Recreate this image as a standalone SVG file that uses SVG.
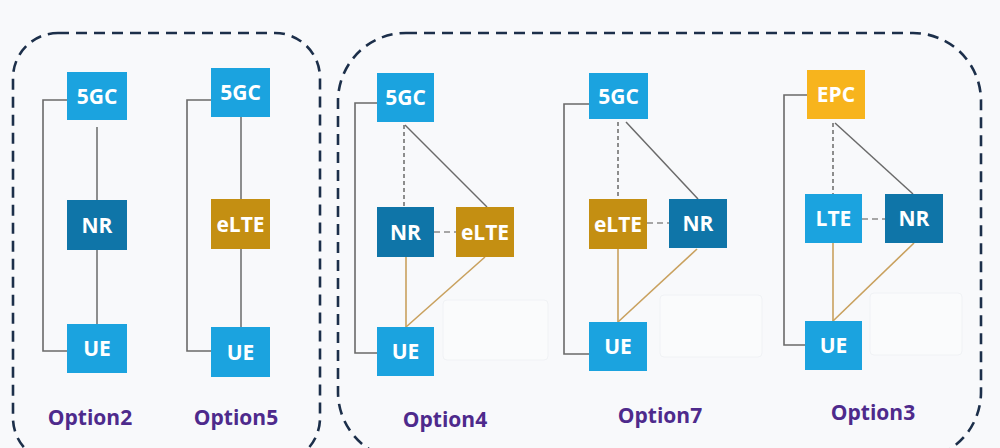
<svg xmlns="http://www.w3.org/2000/svg" width="1000" height="448" viewBox="0 0 1000 448">
<style>
.frame{fill:none;stroke:#1c2f4a;stroke-width:2.6;stroke-dasharray:11 7}
.lb{fill:#1ba3df}.nr{fill:#0f75a8}.el{fill:#c48f12}.epc{fill:#f7b41d}
.t{font-family:"Open Sans","Liberation Sans",sans-serif;font-weight:700;font-size:21px;fill:#ffffff;text-anchor:middle}
.lab{font-family:"Open Sans","Liberation Sans",sans-serif;font-weight:700;font-size:21px;fill:#4e2a8c;text-anchor:middle}
.br{fill:none;stroke:#6a6a6a;stroke-width:1.6}
.sl{stroke:#6a6a6a;stroke-width:1.5}
.dl{stroke:#6a6a6a;stroke-width:1.5;stroke-dasharray:4 3}
.hd{stroke:#8a8a8a;stroke-width:1.5;stroke-dasharray:6 4}
.tan{stroke:#c9a15e;stroke-width:1.6}
.ghost{fill:#fafbfc;stroke:#f0f2f5;stroke-width:1}
</style>
<rect width="1000" height="448" fill="#f8f9fb"/>
<rect class="frame" x="13" y="33" width="307" height="430" rx="45"/>
<rect class="frame" x="338" y="33" width="643" height="427" rx="68"/>
<g id="ghosts">
<rect class="ghost" x="443" y="300" width="105" height="60" rx="4"/>
<rect class="ghost" x="660" y="295" width="102" height="62" rx="4"/>
<rect class="ghost" x="870" y="293" width="92" height="62" rx="4"/>
</g>
<g id="connectors">
<polyline class="br" points="67,100 43,100 43,351 67,351"/>
<line class="sl" x1="97" y1="127" x2="97" y2="200"/>
<line class="sl" x1="97" y1="250" x2="97" y2="324"/>
<polyline class="br" points="211,100 187,100 187,351 211,351"/>
<line class="sl" x1="241" y1="117" x2="241" y2="199"/>
<line class="sl" x1="241" y1="249" x2="241" y2="327"/>
<polyline class="br" points="377,103 355,103 355,353 377,353"/>
<line class="dl" x1="404" y1="125" x2="404" y2="207"/>
<line class="sl" x1="405" y1="125" x2="487" y2="207"/>
<line class="hd" x1="434" y1="232" x2="456" y2="232"/>
<line class="tan" x1="406" y1="257" x2="406" y2="327"/>
<line class="tan" x1="485" y1="257" x2="406" y2="327"/>
<polyline class="br" points="589,104 564,104 564,354 589,354"/>
<line class="dl" x1="618" y1="122" x2="618" y2="199"/>
<line class="sl" x1="626" y1="122" x2="698" y2="199"/>
<line class="hd" x1="647" y1="223" x2="669" y2="223"/>
<line class="tan" x1="618" y1="249" x2="618" y2="322"/>
<line class="tan" x1="697" y1="249" x2="618" y2="322"/>
<polyline class="br" points="807,95 784,95 784,345 805,345"/>
<line class="dl" x1="833" y1="123" x2="833" y2="194"/>
<line class="sl" x1="835" y1="123" x2="913" y2="194"/>
<line class="hd" x1="862" y1="219" x2="885" y2="219"/>
<line class="tan" x1="833" y1="243" x2="833" y2="321"/>
<line class="tan" x1="914" y1="243" x2="833" y2="321"/>
</g>
<g id="opt2-5gc"><rect class="lb" x="67" y="72" width="60" height="48"/><text class="t" x="97" y="103.5">5GC</text></g>
<g id="opt2-nr"><rect class="nr" x="67" y="200" width="60" height="50"/><text class="t" x="97" y="232.5">NR</text></g>
<g id="opt2-ue"><rect class="lb" x="67" y="324" width="60" height="49"/><text class="t" x="97" y="356">UE</text></g>
<g id="opt5-5gc"><rect class="lb" x="211" y="68" width="59" height="49"/><text class="t" x="240.5" y="100">5GC</text></g>
<g id="opt5-elte"><rect class="el" x="211" y="199" width="59" height="50"/><text class="t" x="240.5" y="231.5">eLTE</text></g>
<g id="opt5-ue"><rect class="lb" x="211" y="327" width="59" height="50"/><text class="t" x="240.5" y="359.5">UE</text></g>
<g id="opt4-5gc"><rect class="lb" x="377" y="73" width="57" height="49"/><text class="t" x="405.5" y="105">5GC</text></g>
<g id="opt4-nr"><rect class="nr" x="377" y="207" width="57" height="50"/><text class="t" x="405.5" y="239.5">NR</text></g>
<g id="opt4-elte"><rect class="el" x="456" y="207" width="58" height="50"/><text class="t" x="485" y="239.5">eLTE</text></g>
<g id="opt4-ue"><rect class="lb" x="377" y="327" width="57" height="49"/><text class="t" x="405.5" y="359">UE</text></g>
<g id="opt7-5gc"><rect class="lb" x="589" y="73" width="59" height="46"/><text class="t" x="618.5" y="103.5">5GC</text></g>
<g id="opt7-elte"><rect class="el" x="589" y="199" width="58" height="50"/><text class="t" x="618" y="231.5">eLTE</text></g>
<g id="opt7-nr"><rect class="nr" x="669" y="199" width="58" height="49"/><text class="t" x="698" y="231">NR</text></g>
<g id="opt7-ue"><rect class="lb" x="589" y="322" width="58" height="49"/><text class="t" x="618" y="354">UE</text></g>
<g id="opt3-epc"><rect class="epc" x="807" y="70" width="58" height="49"/><text class="t" x="836" y="102">EPC</text></g>
<g id="opt3-lte"><rect class="lb" x="805" y="194" width="57" height="49"/><text class="t" x="833.5" y="226">LTE</text></g>
<g id="opt3-nr"><rect class="nr" x="885" y="194" width="58" height="49"/><text class="t" x="914" y="226">NR</text></g>
<g id="opt3-ue"><rect class="lb" x="805" y="321" width="57" height="49"/><text class="t" x="833.5" y="353">UE</text></g>
<g id="labels">
<text class="lab" x="90" y="425">Option2</text>
<text class="lab" x="236" y="425">Option5</text>
<text class="lab" x="445" y="427">Option4</text>
<text class="lab" x="660" y="423">Option7</text>
<text class="lab" x="873" y="420">Option3</text>
</g>
</svg>
